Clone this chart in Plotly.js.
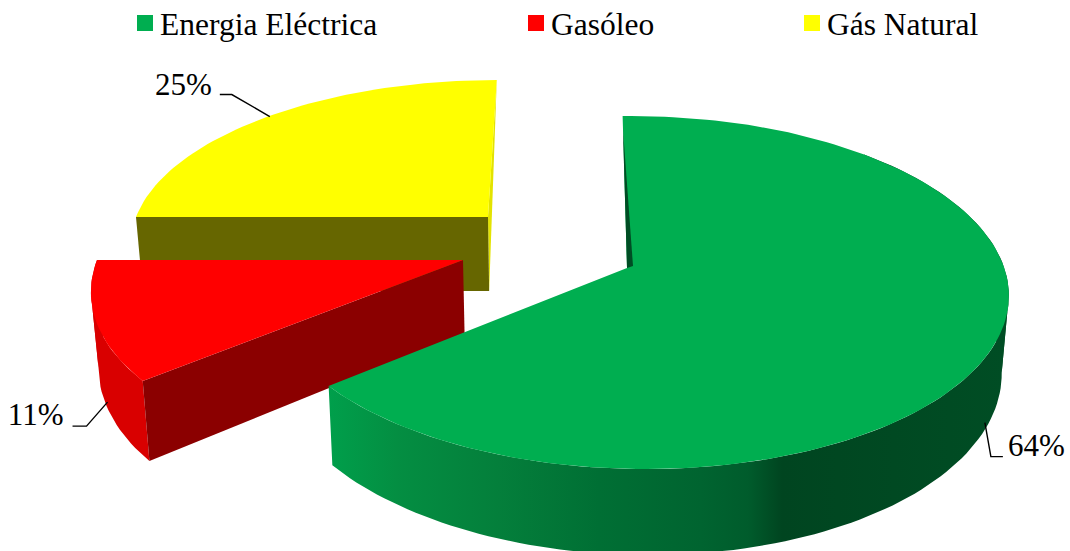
<!DOCTYPE html>
<html>
<head>
<meta charset="utf-8">
<script src="https://cdn.plot.ly/plotly-3.0.1.min.js"></script>
<style>html,body{margin:0;padding:0;background:#fff}#chart{width:1070px;height:551px}</style>
</head>
<body>
<div id="chart"></div>
<script>
// Energy source shares, in percent
const categories = ['Energia Eléctrica', 'Gasóleo', 'Gás Natural'];
const shares = [64, 11, 25];
const topColors = ['#00ae50', '#ff0000', '#ffff00'];

const FONT = 'Liberation Serif, Times New Roman, serif';
const KEY_SIZE = 31.5, LABEL_SIZE = 31;
const WIDTH = 1070, HEIGHT = 551;

// Per-slice perspective: apex position, radii, tilt terms and side-wall depth
const view = [
  {ax: 627, ay: 268, a: 366, b: 173, k: 0.139, m: 0.03, h: -5, depth: 74},
  {ax: 463, ay: 260, a: 366, b: 173, k: 0.139, m: 0,    h: 15.5, depth: 73},
  {ax: 488, ay: 217, a: 352, b: 156, k: 0.139, m: 0,    h: 10, depth: 74}
];
const VANISH_X = 560, CONVERGE = 0.016;

// Start and end angle of each slice, clockwise from twelve o'clock
const total = shares.reduce((s, v) => s + v, 0);
let running = 0;
const spans = shares.map(v => {
  const span = [running / total * 360, (running + v) / total * 360];
  running += v;
  return span;
});

// Projects polar slice coordinates (r = 1 rim, z = 1 bottom face) to the page
function project(v, deg, r, z) {
  const t = deg * Math.PI / 180;
  const X = r * Math.sin(t), Y = r * Math.cos(t);
  const w = 1 + v.k * Y - v.m * X;
  let x = v.ax + (v.a * X + v.h * Y) / w;
  const y = v.ay + (-v.b * Y + z * v.depth) / w;
  x += z * (VANISH_X - x) * CONVERGE;
  return [x, y];
}

function arc(v, from, to, z) {
  const pts = [];
  const n = Math.max(12, Math.ceil(Math.abs(to - from) / 1.5));
  for (let i = 0; i <= n; i++) pts.push(project(v, from + (to - from) * i / n, 1, z));
  return pts;
}

function poly(pts, color, extra) {
  return Object.assign({
    type: 'scatter', mode: 'lines',
    x: pts.map(p => p[0]), y: pts.map(p => p[1]),
    fill: 'toself', fillcolor: color,
    line: {width: 0, color: color},
    hoverinfo: 'skip', showlegend: false
  }, extra || {});
}

// Rim wall as two ribbons, split where the rim turns back on itself horizontally,
// so the outline stays filled between the top and bottom faces
function rimWall(v, from, to, color, extra) {
  let split = from, widest = -1;
  for (let d = from; d <= to; d += 0.5) {
    const reach = Math.abs(project(v, d, 1, 0)[0] - v.ax);
    if (reach > widest) { widest = reach; split = d; }
  }
  return [[from, split], [split, to]]
    .filter(([p, q]) => q > p)
    .map(([p, q]) => poly([...arc(v, p, q, 0), ...arc(v, q, p, 1)], color, extra));
}

const apexOf = (i, z) => project(view[i], 0, 0, z);
const traces = [];

// Gás Natural: back strip, front wall, top face
{
  const i = 2, v = view[i], [s, e] = spans[i];
  traces.push(poly([project(v, 0, 1, 0), apexOf(i, 0), apexOf(i, 1)], '#e3e300'));
  traces.push(poly([apexOf(i, 0), project(v, s, 1, 0), project(v, s, 1, 1), apexOf(i, 1)], '#666600'));
  traces.push(poly([apexOf(i, 0), ...arc(v, s, e, 0)], topColors[i], {name: categories[i]}));
}
// Gasóleo: rim wall, radial wall, top face
{
  const i = 1, v = view[i], [s, e] = spans[i];
  traces.push(...rimWall(v, s, e, '#d90000'));
  traces.push(poly([apexOf(i, 0), project(v, s, 1, 0), project(v, s, 1, 1), apexOf(i, 1)], '#8b0000'));
  traces.push(poly([apexOf(i, 0), ...arc(v, s, e, 0)], topColors[i], {name: categories[i]}));
}
// Energia Eléctrica: shaded rim wall, top face, thin back edge
{
  const i = 0, v = view[i], [s, e] = spans[i];
  traces.push(...rimWall(v, 45, e, '#006630', {
    fillgradient: {
      type: 'horizontal', start: 329, stop: 1005,
      colorscale: [[0, '#009f4b'], [0.1, '#048e42'], [0.25, '#047f3b'], [0.4, '#006f34'],
                   [0.55, '#006430'], [0.62, '#005c2c'], [0.67, '#004520'], [1, '#004d24']]
    }
  }));
  traces.push(poly([apexOf(i, 0), ...arc(v, s, e, 0)], topColors[i], {name: categories[i]}));
  const a0 = apexOf(i, 0);
  traces.push(poly([project(v, 0, 0.9, 0), [a0[0] + 6, a0[1] - 2], a0], '#004d24'));
}

// Leader lines start on the slice near its middle angle and end beside the label
const leaders = [
  {slice: 0, z: 1, nudge: [0, -7], elbow: [6, 34], end: [18, 34], label: [5, -8], pos: 'middle right'},
  {slice: 1, z: 1, nudge: [4, 4], elbow: [-21, 24], end: [-35, 24], label: [-9, -9], pos: 'middle left'},
  {slice: 2, z: 0, nudge: [2, 0], elbow: [-38, -22], end: [-50, -22], label: [-8, -7], pos: 'middle left'}
];
leaders.forEach(l => {
  const v = view[l.slice], [s, e] = spans[l.slice];
  const p = project(v, (s + e) / 2, 1, l.z);
  const px = p[0] + l.nudge[0], py = p[1] + l.nudge[1];
  const xs = [px, px + l.elbow[0], px + l.end[0]];
  const ys = [py, py + l.elbow[1], py + l.end[1]];
  traces.push({type: 'scatter', mode: 'lines', x: xs, y: ys,
    line: {color: '#000', width: 1.4}, hoverinfo: 'skip', showlegend: false});
  traces.push({type: 'scatter', mode: 'text', x: [xs[2] + l.label[0]], y: [ys[2] + l.label[1]],
    text: [shares[l.slice] + '%'], textposition: l.pos,
    textfont: {family: FONT, size: LABEL_SIZE, color: '#000'},
    hoverinfo: 'skip', showlegend: false});
});

// Key row above the pie
const keySwatchX = [145, 536, 812];
const keyTextX = [160, 551, 827];
const SWATCH_Y = 23, KEY_TEXT_Y = 27;
traces.push({type: 'scatter', mode: 'markers', x: keySwatchX, y: keySwatchX.map(() => SWATCH_Y),
  marker: {symbol: 'square', size: 16, color: topColors, line: {width: 0}},
  hoverinfo: 'skip', showlegend: false});
traces.push({type: 'scatter', mode: 'text', x: keyTextX, y: keyTextX.map(() => KEY_TEXT_Y),
  text: categories, textposition: 'middle right',
  textfont: {family: FONT, size: KEY_SIZE, color: '#000'},
  hoverinfo: 'skip', showlegend: false});

const hiddenAxis = {visible: false, fixedrange: true, showgrid: false, zeroline: false};
Plotly.newPlot('chart', traces, {
  width: WIDTH, height: HEIGHT,
  margin: {l: 0, r: 0, t: 0, b: 0},
  paper_bgcolor: '#fff', plot_bgcolor: '#fff',
  showlegend: false,
  xaxis: Object.assign({range: [0, WIDTH]}, hiddenAxis),
  yaxis: Object.assign({range: [HEIGHT, 0]}, hiddenAxis)
}, {displayModeBar: false, staticPlot: true});
</script>
</body>
</html>
